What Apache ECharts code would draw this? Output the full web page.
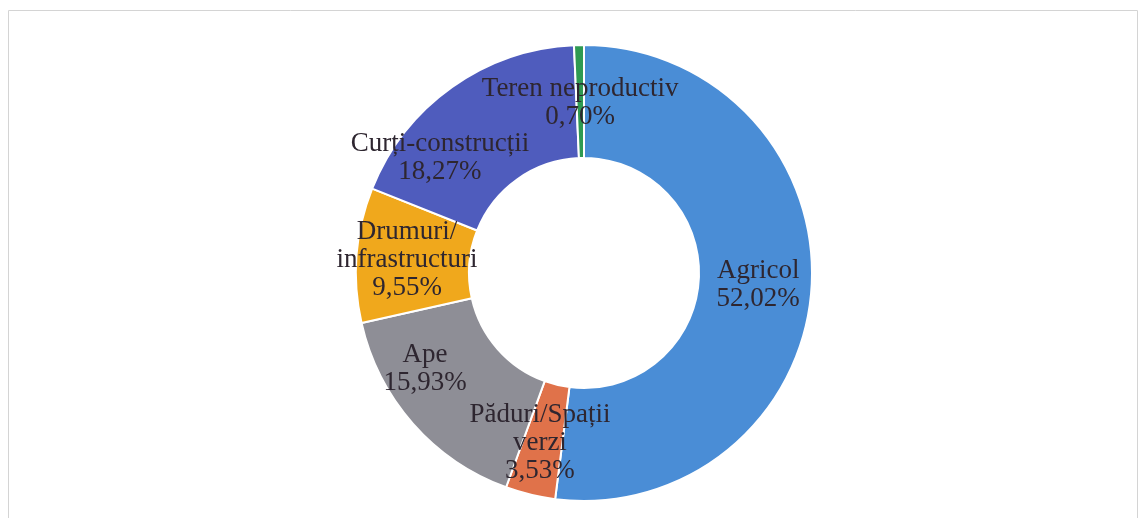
<!DOCTYPE html>
<html>
<head>
<meta charset="utf-8">
<script src="https://cdn.jsdelivr.net/npm/echarts@6/dist/echarts.min.js"></script>
<style>
  html, body { margin: 0; padding: 0; background: #fff; }
  #chart { width: 1142px; height: 518px; }
</style>
</head>
<body>
<div id="chart"></div>
<script>
// Land use shares (%), in clockwise order from the top
const categories = ['Agricol', 'Păduri/Spații\nverzi', 'Ape', 'Drumuri/\ninfrastructuri', 'Curți-construcții', 'Teren neproductiv'];
const values = [52.02, 3.53, 15.93, 9.55, 18.27, 0.70];
const colors = ['#4a8dd6', '#e0724a', '#8e8e96', '#f0a81c', '#4f5cbd', '#2f9a52'];
// Small nudges for labels that sit away from their slice centre
const labelOffsets = [[0, 1], [-3, 0], [-28, -19], [-3, 1], [-43, 27], [0, 4]];

const data = categories.map((name, i) => ({
  name,
  value: values[i],
  itemStyle: { color: colors[i] },
  label: { offset: labelOffsets[i] }
}));

const chart = echarts.init(document.getElementById('chart'), null, { renderer: 'canvas' });
chart.setOption({
  animation: false,
  graphic: [{
    type: 'rect',
    shape: { x: 8.5, y: 10.5, width: 1129, height: 520 },
    style: { fill: 'none', stroke: '#d4d4d4', lineWidth: 1 },
    silent: true
  }],
  series: [{
    type: 'pie',
    center: [584, 273],
    radius: [115, 228],
    startAngle: 90,
    clockwise: true,
    avoidLabelOverlap: false,
    labelLayout: { hideOverlap: false },
    itemStyle: { borderColor: '#fff', borderWidth: 2 },
    label: {
      show: true,
      position: 'inside',
      fontFamily: '"Liberation Serif", "DejaVu Serif", serif',
      fontSize: 27,
      lineHeight: 28,
      color: '#2e2630',
      align: 'center',
      formatter: p => p.name + '\n' + p.value.toFixed(2).replace('.', ',') + '%'
    },
    labelLine: { show: false },
    data
  }]
});
</script>
</body>
</html>
